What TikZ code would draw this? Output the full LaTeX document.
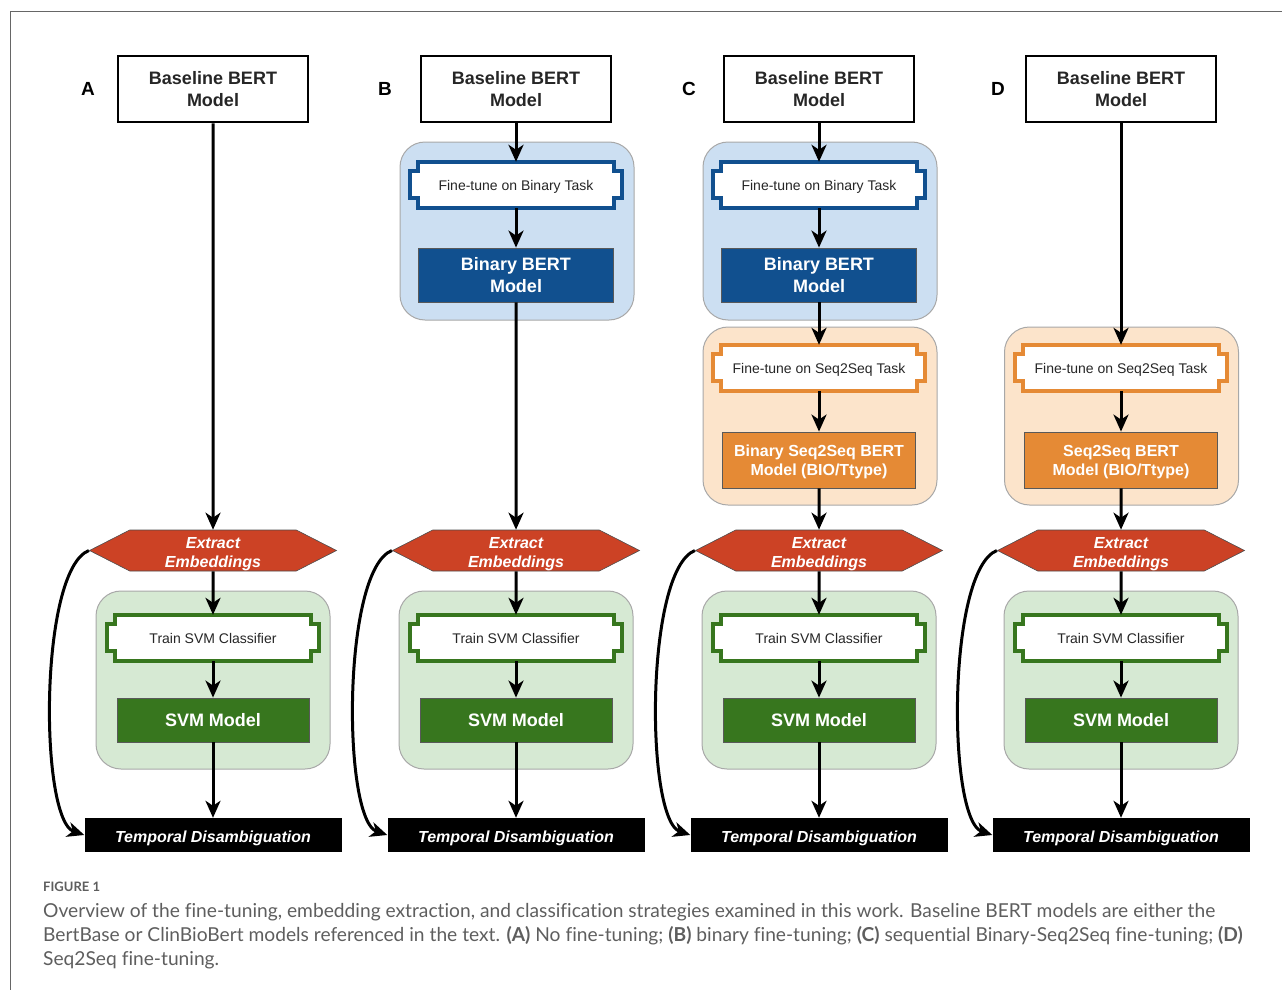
\documentclass[tikz,border=0pt]{standalone}
\usepackage{fontspec}
\setmainfont{Liberation Sans}
\newfontfamily\capfont[Ligatures=NoCommon]{Lato}
\usetikzlibrary{arrows.meta,calc,shapes.symbols}

\definecolor{blueback}{HTML}{CCDFF2}
\definecolor{bluedark}{HTML}{11508F}
\definecolor{orangeback}{HTML}{FCE4CB}
\definecolor{orangedark}{HTML}{E58A35}
\definecolor{greenback}{HTML}{D6E9D3}
\definecolor{greendark}{HTML}{37761E}
\definecolor{extractred}{HTML}{CC4225}
\definecolor{boxline}{HTML}{A8A8A8}
\definecolor{textgray}{HTML}{262626}
\definecolor{captiongray}{HTML}{5E5E5E}

% notched task box: name, centre, colour, text
\newcommand{\taskbox}[4]{%
  \draw[#3, line width=3.5pt, fill=white] ($(#2)+(-98,-23)$) -- ++(196,0) -- ++(0,9) -- ++(8,0) -- ++(0,27) -- ++(-8,0) -- ++(0,10) -- ++(-196,0) -- ++(0,-10) -- ++(-8,0) -- ++(0,-27) -- ++(8,0) -- cycle;
  \node[task] (#1) at (#2) {#4};}

\begin{document}
\begin{tikzpicture}[x=1pt, y=-1pt] % pixel grid of the figure
\tikzstyle{model} = [draw=black, line width=2.5pt, fill=white, text=textgray, font=\fontsize{18}{22}\selectfont\bfseries, align=center, minimum width=190pt, minimum height=66pt, inner sep=0pt]
\tikzstyle{panel} = [font=\fontsize{19}{22}\selectfont\bfseries, text=black]
\tikzstyle{group} = [draw=boxline, line width=1pt, rounded corners=25pt, minimum width=234pt, minimum height=178pt, inner sep=0pt]
\tikzstyle{task} = [font=\fontsize{14}{17}\selectfont, text=textgray, text depth=0pt, minimum width=212pt, minimum height=46pt, inner sep=0pt]
\tikzstyle{trained} = [draw=gray!70!black, line width=0.8pt, text=white, font=\fontsize{18}{22}\selectfont\bfseries, align=center, minimum height=54pt, inner sep=0pt]
\tikzstyle{extract} = [signal, signal to=west and east, signal pointer angle=54, fill=extractred, draw=gray!60!black, line width=0.6pt, text=white, font=\fontsize{16}{19}\selectfont\bfseries\itshape, align=center, text height=33pt, text depth=0pt, minimum width=247pt, minimum height=41pt, inner sep=0pt]
\tikzstyle{result} = [fill=black, text=white, font=\fontsize{16}{19}\selectfont\bfseries\itshape, text height=15pt, text depth=0pt, minimum width=257pt, minimum height=34pt, inner sep=0pt]
\tikzstyle{arrow} = [-{Stealth[length=17pt, width=15pt, inset=5pt]}, line width=3pt, draw=black]

\useasboundingbox (0,0) rectangle (1282,990);
\draw[gray!80!black, line width=1pt] (10,990) -- (10,12) -- (1282,12);

% Parts shared by all four strategies
\foreach \col/\cx/\lx in {A/213/88, B/516/385, C/819/689, D/1121/998} {
  \node[panel] (lab\col) at (\lx, 89) {\col};
  \node[model] (base\col) at (\cx, 89) {Baseline BERT\\Model};
  \node[group, fill=greenback] (grn\col) at (\cx, 680) {};
  \taskbox{train\col}{\cx,638}{greendark}{Train SVM Classifier}
  \node[trained, fill=greendark, minimum width=192pt, minimum height=44pt] (svm\col) at (\cx, 720) {SVM Model};
  \node[extract] (ext\col) at (\cx, 550.5) {Extract\\Embeddings};
  \node[result] (temp\col) at (\cx, 835) {Temporal Disambiguation};
  \draw[arrow] (ext\col) -- (train\col);
  \draw[arrow] (train\col) -- (svm\col);
  \draw[arrow] (svm\col) -- (temp\col);
  \draw[arrow] (ext\col.west) .. controls ($(ext\col.west)+(-50,20)$) and ($(temp\col.west)+(-45,-15)$) .. (temp\col.west);
}

% B: binary fine-tuning
\node[group, fill=blueback] (blueB) at (517,231) {};
\taskbox{binftB}{516,185}{bluedark}{Fine-tune on Binary Task}
\node[trained, fill=bluedark, minimum width=195pt] (binB) at (516,275) {Binary BERT\\Model};

% C: binary then seq2seq
\node[group, fill=blueback] (blueC) at (820,231) {};
\taskbox{binftC}{819,185}{bluedark}{Fine-tune on Binary Task}
\node[trained, fill=bluedark, minimum width=195pt] (binC) at (819,275) {Binary BERT\\Model};
\node[group, fill=orangeback] (orngC) at (820,416) {};
\taskbox{seqftC}{819,368}{orangedark}{Fine-tune on Seq2Seq Task}
\node[trained, fill=orangedark, minimum width=193pt, minimum height=56pt, text depth=0pt, font=\fontsize{16}{19}\selectfont\bfseries] (seqC) at (819,460) {Binary Seq2Seq BERT\\Model (BIO/Ttype)};

% D: seq2seq only
\node[group, fill=orangeback] (orngD) at (1121.5,416) {};
\taskbox{seqftD}{1121,368}{orangedark}{Fine-tune on Seq2Seq Task}
\node[trained, fill=orangedark, minimum width=193pt, minimum height=56pt, text depth=0pt, font=\fontsize{16}{19}\selectfont\bfseries] (seqD) at (1121,460) {Seq2Seq BERT\\Model (BIO/Ttype)};

% Arrows
\draw[arrow] (baseA) -- (extA);

\draw[arrow] (baseB) -- (binftB);
\draw[arrow] (binftB) -- (binB);
\draw[arrow] (binB) -- (extB);

\draw[arrow] (baseC) -- (binftC);
\draw[arrow] (binftC) -- (binC);
\draw[arrow] (binC) -- (seqftC);
\draw[arrow] (seqftC) -- (seqC);
\draw[arrow] (seqC) -- (extC);

\draw[arrow] (baseD) -- (seqftD);
\draw[arrow] (seqftD) -- (seqD);
\draw[arrow] (seqD) -- (extD);

% Caption
\node[anchor=west, inner sep=0pt, text=captiongray, font=\capfont\fontsize{13}{15}\selectfont\bfseries] (figlabel) at (43,887) {FIGURE 1};
\node[anchor=north west, align=left, inner sep=0pt, text=captiongray, font=\capfont\fontsize{19.2}{24}\selectfont] (caption) at (43,903) {Overview of the fine-tuning, embedding extraction, and classification strategies examined in this work. Baseline BERT models are either the\\BertBase or ClinBioBert models referenced in the text. \textbf{(A)} No fine-tuning; \textbf{(B)} binary fine-tuning; \textbf{(C)} sequential Binary-Seq2Seq fine-tuning; \textbf{(D)}\\Seq2Seq fine-tuning.};
\end{tikzpicture}
\end{document}
